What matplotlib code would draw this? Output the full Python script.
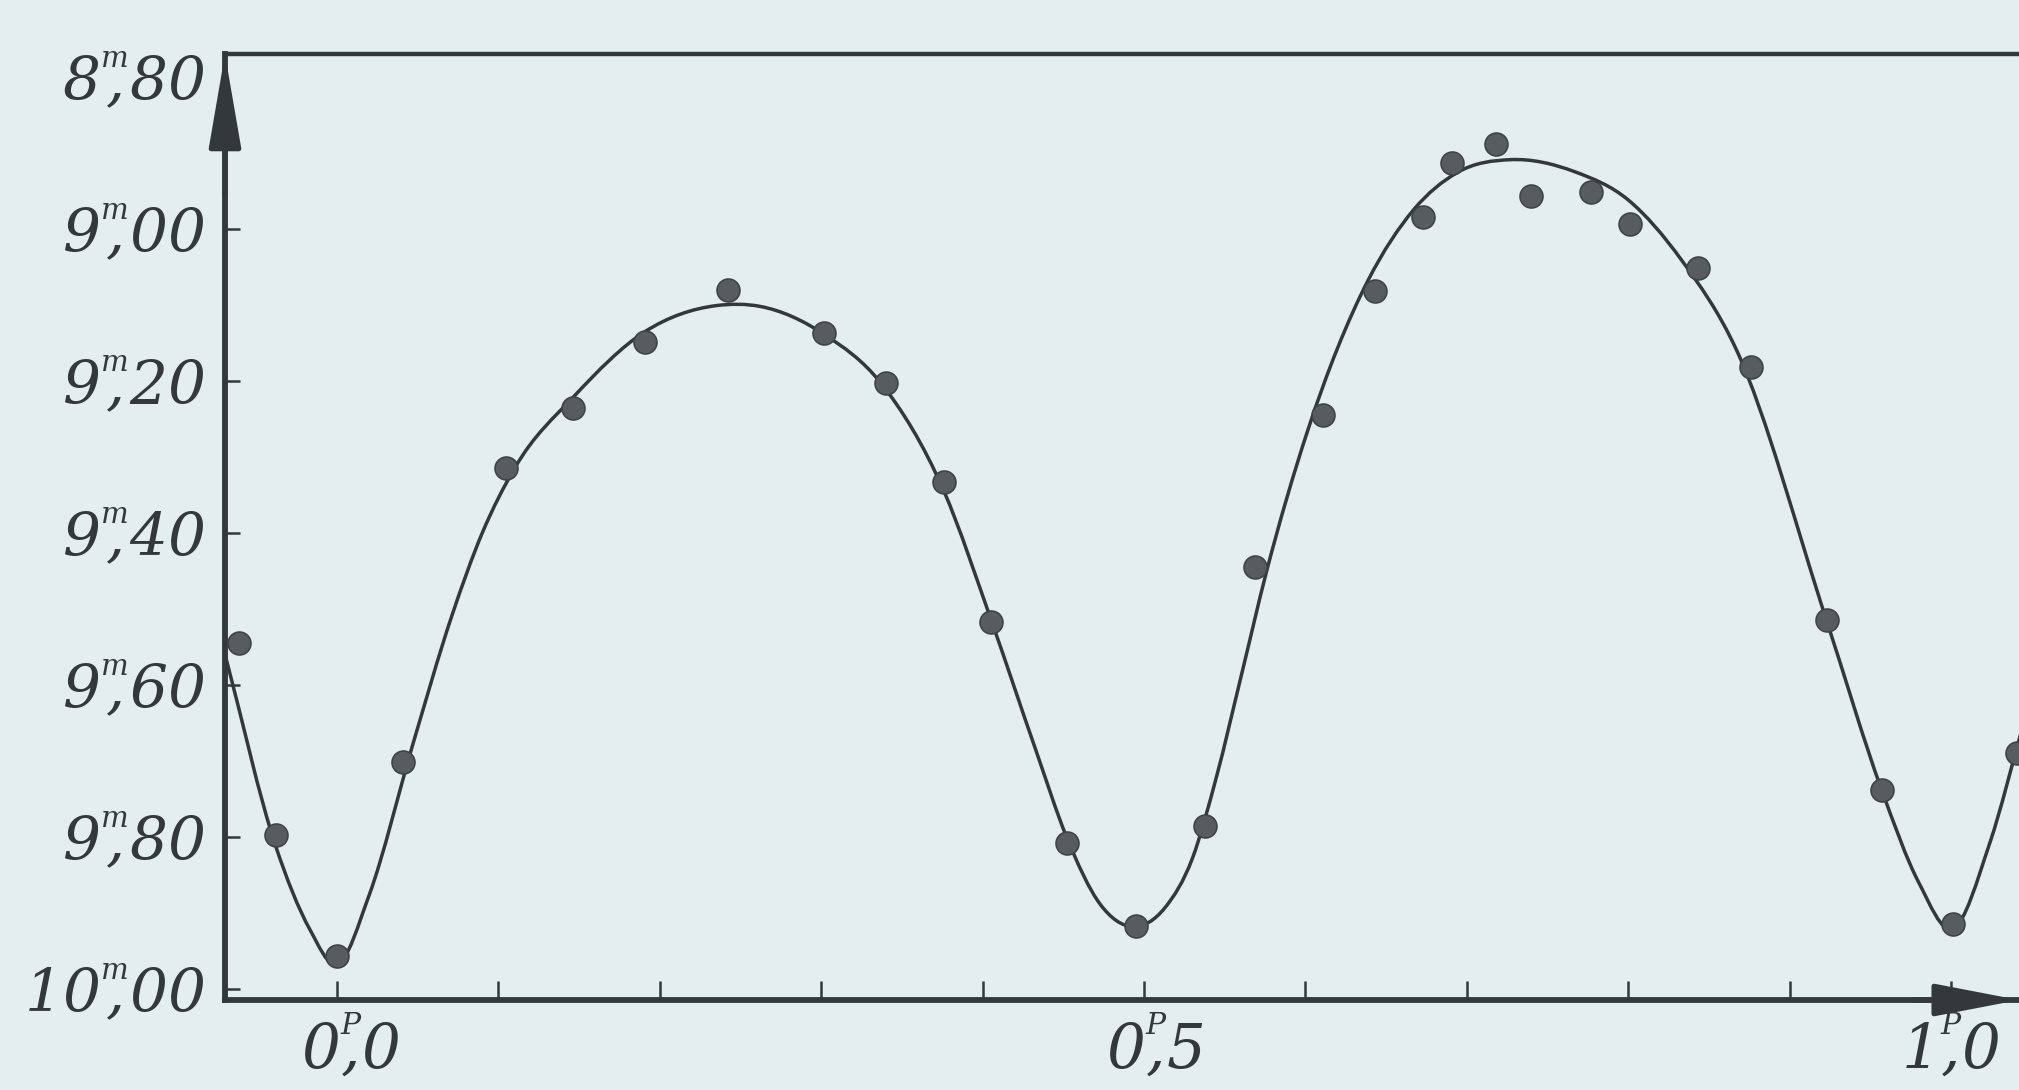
import numpy as np
import matplotlib
matplotlib.use("Agg")
import matplotlib.pyplot as plt
from matplotlib.path import Path
from matplotlib.patches import PathPatch
from matplotlib.transforms import ScaledTranslation

# ---- data (phase in periods, magnitude) ----
phase_obs = [-0.061, -0.038, 0.000, 0.041, 0.105, 0.146, 0.191, 0.242, 0.302, 0.340,
             0.376, 0.405, 0.452, 0.495, 0.538, 0.569, 0.611, 0.643, 0.673, 0.691,
             0.718, 0.740, 0.777, 0.801, 0.843, 0.876, 0.923, 0.957, 1.001, 1.041]
mag_obs = [9.545, 9.797, 9.956, 9.701, 9.315, 9.236, 9.149, 9.081, 9.137, 9.203,
           9.333, 9.517, 9.808, 9.917, 9.785, 9.445, 9.245, 9.082, 8.984, 8.913,
           8.888, 8.957, 8.952, 8.993, 9.052, 9.182, 9.515, 9.738, 9.915, 9.689]

curve_phase = [-0.069, -0.038, -0.017, 0.000, 0.020, 0.047, 0.071, 0.090, 0.110, 0.147,
               0.191, 0.235, 0.262, 0.302, 0.337, 0.376, 0.406, 0.433, 0.452, 0.473,
               0.493, 0.513, 0.530, 0.545, 0.560, 0.576, 0.601, 0.639, 0.667, 0.694,
               0.727, 0.767, 0.800, 0.833, 0.867, 0.923, 0.957, 0.980, 1.001, 1.024,
               1.045]
curve_mag = [9.563, 9.812, 9.921, 9.968, 9.876, 9.678, 9.510, 9.400, 9.315, 9.220,
             9.135, 9.101, 9.102, 9.139, 9.203, 9.345, 9.519, 9.686, 9.800, 9.889,
             9.918, 9.893, 9.828, 9.720, 9.590, 9.450, 9.268, 9.067, 8.975, 8.926,
             8.909, 8.925, 8.962, 9.041, 9.159, 9.516, 9.738, 9.860, 9.921, 9.808,
             9.650]

y_ticks = [8.8, 9.0, 9.2, 9.4, 9.6, 9.8, 10.0]
y_ticklabels = [r"$8\overset{{}^{m}}{,}80$", r"$9\overset{{}^{m}}{,}00$",
                r"$9\overset{{}^{m}}{,}20$", r"$9\overset{{}^{m}}{,}40$",
                r"$9\overset{{}^{m}}{,}60$", r"$9\overset{{}^{m}}{,}80$",
                r"$10\overset{{}^{m}}{,}00$"]
x_ticks = [0.0, 0.5, 1.0]
x_ticklabels = [r"$0\overset{{}^{P}}{,}0$", r"$0\overset{{}^{P}}{,}5$",
                r"$1\overset{{}^{P}}{,}0$"]
x_minor_ticks = [0.1, 0.2, 0.3, 0.4, 0.6, 0.7, 0.8, 0.9]

# ---- style ----
paper = "#e5eeee"
ink = "#33393b"
dot = "#575c5f"

plt.rcParams["mathtext.fontset"] = "custom"
plt.rcParams["mathtext.rm"] = "DejaVu Serif:italic"
plt.rcParams["mathtext.it"] = "DejaVu Serif:italic"

W, H = 2019, 1090
fig = plt.figure(figsize=(W / 100, H / 100), dpi=100, facecolor=paper)
left_px, right_px, top_px, bot_px = 225, 2019, 54, 1000
ax = fig.add_axes([left_px / W, 1 - bot_px / H, (right_px - left_px) / W, (bot_px - top_px) / H])
ax.set_facecolor(paper)

ax.set_xlim(-0.0694, 1.0421)
ax.set_ylim(10.0145, 8.770)  # magnitudes increase downward

# smooth curve: cubic Hermite through the knots (3-point slopes), drawn as a Bezier path
x = np.asarray(curve_phase)
y = np.asarray(curve_mag)
n = len(x)
h = np.diff(x)
d = np.diff(y) / h
m = np.empty(n)
m[1:-1] = (h[1:] * d[:-1] + h[:-1] * d[1:]) / (h[:-1] + h[1:])
m[0] = d[0]
m[-1] = d[-1]
verts = [(x[0], y[0])]
codes = [Path.MOVETO]
for i in range(n - 1):
    verts += [(x[i] + h[i] / 3, y[i] + m[i] * h[i] / 3),
              (x[i + 1] - h[i] / 3, y[i + 1] - m[i + 1] * h[i] / 3),
              (x[i + 1], y[i + 1])]
    codes += [Path.CURVE4] * 3
ax.add_patch(PathPatch(Path(verts, codes), facecolor="none", edgecolor=ink,
                       lw=2.5, zorder=2, capstyle="round", joinstyle="round"))

ax.plot(phase_obs, mag_obs, "o", ms=16.5, mfc=dot, mec="#3f4446", mew=1.2,
        zorder=3, clip_on=False)

# spines
for s in ["left", "bottom"]:
    ax.spines[s].set_linewidth(4.2)
    ax.spines[s].set_color(ink)
ax.spines["top"].set_linewidth(3.2)
ax.spines["top"].set_color(ink)
ax.spines["right"].set_visible(False)

# arrows on the axes
ax.annotate("", xy=(0, 1.0), xytext=(0, 0.85), xycoords="axes fraction",
            arrowprops=dict(arrowstyle="-|>,head_length=2.9,head_width=0.5",
                            mutation_scale=20, lw=3.5, color=ink,
                            shrinkA=0, shrinkB=0), annotation_clip=False)
ax.annotate("", xy=(1.0, 0), xytext=(0.94, 0), xycoords="axes fraction",
            arrowprops=dict(arrowstyle="-|>,head_length=2.6,head_width=0.5",
                            mutation_scale=20, lw=3.5, color=ink,
                            shrinkA=0, shrinkB=0), annotation_clip=False)

# ticks
ax.set_yticks(y_ticks)
ax.set_yticklabels(y_ticklabels)
ax.set_xticks(x_ticks)
ax.set_xticklabels(x_ticklabels)
ax.set_xticks(x_minor_ticks, minor=True)
ax.tick_params(axis="y", direction="in", length=11, width=1.8, color=ink,
               labelsize=43, labelcolor=ink, pad=14)
ax.tick_params(axis="x", which="both", direction="in", length=14, width=1.8,
               color=ink, labelsize=44, labelcolor=ink, pad=9)
ax.yaxis.get_major_ticks()[0].tick1line.set_visible(False)
for lab, dx in zip(ax.get_xticklabels(), [10, 8, 0]):
    lab.set_transform(lab.get_transform() + ScaledTranslation(dx / 72, 0, fig.dpi_scale_trans))

fig.savefig("out.png", dpi=100, facecolor=paper)
